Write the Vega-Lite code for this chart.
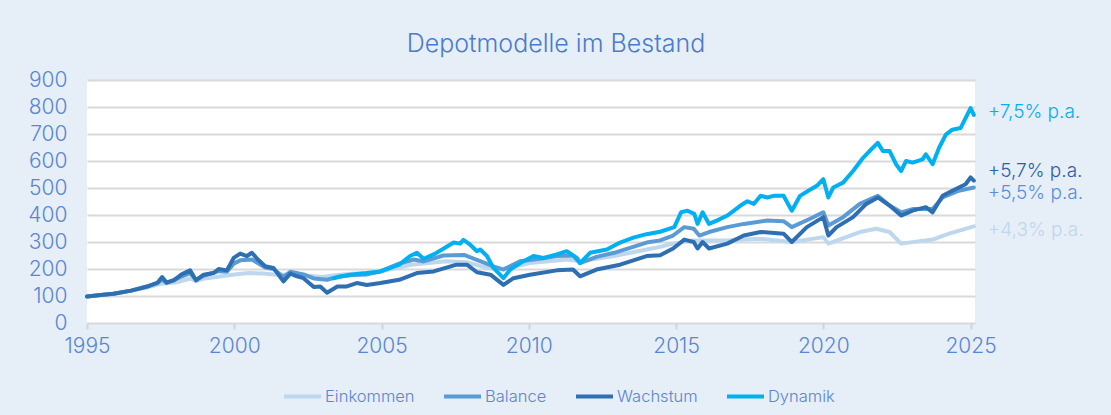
{
  "$schema": "https://vega.github.io/schema/vega-lite/v6.json",
  "width": 888,
  "height": 243,
  "autosize": {"type": "none"},
  "padding": {"left": 87, "top": 80, "right": 136, "bottom": 92},
  "background": "#e6eef8",
  "title": {"text": "Depotmodelle im Bestand", "fontSize": 25, "fontWeight": 300, "color": "#4a7bcc", "font": "Inter", "offset": 12, "dx": 25},
  "config": {
    "font": "Inter",
    "view": {"fill": "white", "stroke": null}
  },
  "datasets": {
    "lines": [
      {"s":"Einkommen","t":1995.0,"v":98},{"s":"Einkommen","t":1996.0,"v":110},{"s":"Einkommen","t":1997.0,"v":130},{"s":"Einkommen","t":1997.5,"v":145},{"s":"Einkommen","t":1998.0,"v":150},{"s":"Einkommen","t":1998.5,"v":165},{"s":"Einkommen","t":1998.7,"v":155},{"s":"Einkommen","t":1999.0,"v":165},{"s":"Einkommen","t":1999.5,"v":172},{"s":"Einkommen","t":2000.0,"v":180},{"s":"Einkommen","t":2000.5,"v":185},{"s":"Einkommen","t":2001.0,"v":183},{"s":"Einkommen","t":2001.5,"v":178},{"s":"Einkommen","t":2002.0,"v":182},{"s":"Einkommen","t":2002.5,"v":175},{"s":"Einkommen","t":2003.0,"v":170},{"s":"Einkommen","t":2003.5,"v":178},{"s":"Einkommen","t":2004.0,"v":182},{"s":"Einkommen","t":2004.5,"v":185},{"s":"Einkommen","t":2004.96,"v":191},{"s":"Einkommen","t":2006.0,"v":216},{"s":"Einkommen","t":2007.2,"v":229},{"s":"Einkommen","t":2007.9,"v":225},{"s":"Einkommen","t":2008.6,"v":204},{"s":"Einkommen","t":2009.14,"v":200},{"s":"Einkommen","t":2010.04,"v":222},{"s":"Einkommen","t":2011.3,"v":235},{"s":"Einkommen","t":2011.74,"v":229},{"s":"Einkommen","t":2012.9,"v":248},{"s":"Einkommen","t":2014.0,"v":272},{"s":"Einkommen","t":2014.46,"v":282},{"s":"Einkommen","t":2014.9,"v":294},{"s":"Einkommen","t":2015.6,"v":306},{"s":"Einkommen","t":2016.7,"v":306},{"s":"Einkommen","t":2017.8,"v":312},{"s":"Einkommen","t":2018.93,"v":300},{"s":"Einkommen","t":2020.0,"v":318},{"s":"Einkommen","t":2020.17,"v":294},{"s":"Einkommen","t":2021.24,"v":337},{"s":"Einkommen","t":2021.8,"v":349},{"s":"Einkommen","t":2022.25,"v":337},{"s":"Einkommen","t":2022.64,"v":294},{"s":"Einkommen","t":2023.48,"v":306},{"s":"Einkommen","t":2023.71,"v":309},{"s":"Einkommen","t":2024.27,"v":331},{"s":"Einkommen","t":2025.11,"v":358},

      {"s":"Balance","t":1995.0,"v":98},{"s":"Balance","t":1995.9,"v":108},{"s":"Balance","t":1996.5,"v":120},{"s":"Balance","t":1997.04,"v":135},{"s":"Balance","t":1997.4,"v":148},{"s":"Balance","t":1997.55,"v":162},{"s":"Balance","t":1997.7,"v":148},{"s":"Balance","t":1998.2,"v":172},{"s":"Balance","t":1998.5,"v":185},{"s":"Balance","t":1998.7,"v":160},{"s":"Balance","t":1998.96,"v":175},{"s":"Balance","t":1999.47,"v":192},{"s":"Balance","t":1999.75,"v":190},{"s":"Balance","t":1999.98,"v":220},{"s":"Balance","t":2000.2,"v":232},{"s":"Balance","t":2000.6,"v":235},{"s":"Balance","t":2000.8,"v":222},{"s":"Balance","t":2001.05,"v":205},{"s":"Balance","t":2001.33,"v":200},{"s":"Balance","t":2001.67,"v":170},{"s":"Balance","t":2001.9,"v":190},{"s":"Balance","t":2002.35,"v":180},{"s":"Balance","t":2002.7,"v":165},{"s":"Balance","t":2003.15,"v":160},{"s":"Balance","t":2003.5,"v":170},{"s":"Balance","t":2004.0,"v":178},{"s":"Balance","t":2004.5,"v":180},{"s":"Balance","t":2004.96,"v":191},{"s":"Balance","t":2005.6,"v":220},{"s":"Balance","t":2006.1,"v":235},{"s":"Balance","t":2006.43,"v":228},{"s":"Balance","t":2007.1,"v":250},{"s":"Balance","t":2007.8,"v":252},{"s":"Balance","t":2008.35,"v":229},{"s":"Balance","t":2008.8,"v":210},{"s":"Balance","t":2009.14,"v":198},{"s":"Balance","t":2009.7,"v":229},{"s":"Balance","t":2010.5,"v":240},{"s":"Balance","t":2010.95,"v":248},{"s":"Balance","t":2011.5,"v":250},{"s":"Balance","t":2011.74,"v":222},{"s":"Balance","t":2012.3,"v":245},{"s":"Balance","t":2012.9,"v":260},{"s":"Balance","t":2014.0,"v":298},{"s":"Balance","t":2014.46,"v":306},{"s":"Balance","t":2014.9,"v":324},{"s":"Balance","t":2015.28,"v":355},{"s":"Balance","t":2015.6,"v":349},{"s":"Balance","t":2015.79,"v":324},{"s":"Balance","t":2016.12,"v":337},{"s":"Balance","t":2016.74,"v":355},{"s":"Balance","t":2017.3,"v":367},{"s":"Balance","t":2018.1,"v":380},{"s":"Balance","t":2018.65,"v":377},{"s":"Balance","t":2018.93,"v":355},{"s":"Balance","t":2019.55,"v":386},{"s":"Balance","t":2020.0,"v":410},{"s":"Balance","t":2020.17,"v":361},{"s":"Balance","t":2020.67,"v":392},{"s":"Balance","t":2021.24,"v":441},{"s":"Balance","t":2021.85,"v":471},{"s":"Balance","t":2022.25,"v":435},{"s":"Balance","t":2022.64,"v":410},{"s":"Balance","t":2023.03,"v":422},{"s":"Balance","t":2023.71,"v":422},{"s":"Balance","t":2024.05,"v":465},{"s":"Balance","t":2024.6,"v":490},{"s":"Balance","t":2025.11,"v":502},

      {"s":"Wachstum","t":1995.0,"v":98},{"s":"Wachstum","t":1995.45,"v":104},{"s":"Wachstum","t":1995.9,"v":108},{"s":"Wachstum","t":1996.5,"v":120},{"s":"Wachstum","t":1997.04,"v":135},{"s":"Wachstum","t":1997.4,"v":150},{"s":"Wachstum","t":1997.55,"v":170},{"s":"Wachstum","t":1997.7,"v":150},{"s":"Wachstum","t":1997.95,"v":158},{"s":"Wachstum","t":1998.2,"v":179},{"s":"Wachstum","t":1998.5,"v":195},{"s":"Wachstum","t":1998.7,"v":158},{"s":"Wachstum","t":1998.96,"v":179},{"s":"Wachstum","t":1999.3,"v":185},{"s":"Wachstum","t":1999.47,"v":200},{"s":"Wachstum","t":1999.75,"v":195},{"s":"Wachstum","t":1999.98,"v":241},{"s":"Wachstum","t":2000.2,"v":257},{"s":"Wachstum","t":2000.43,"v":248},{"s":"Wachstum","t":2000.6,"v":260},{"s":"Wachstum","t":2000.8,"v":235},{"s":"Wachstum","t":2001.05,"v":210},{"s":"Wachstum","t":2001.33,"v":204},{"s":"Wachstum","t":2001.67,"v":154},{"s":"Wachstum","t":2001.9,"v":183},{"s":"Wachstum","t":2002.13,"v":173},{"s":"Wachstum","t":2002.35,"v":166},{"s":"Wachstum","t":2002.7,"v":133},{"s":"Wachstum","t":2002.92,"v":135},{"s":"Wachstum","t":2003.15,"v":112},{"s":"Wachstum","t":2003.5,"v":135},{"s":"Wachstum","t":2003.8,"v":135},{"s":"Wachstum","t":2004.16,"v":148},{"s":"Wachstum","t":2004.5,"v":141},{"s":"Wachstum","t":2004.96,"v":148},{"s":"Wachstum","t":2005.6,"v":160},{"s":"Wachstum","t":2006.2,"v":185},{"s":"Wachstum","t":2006.77,"v":191},{"s":"Wachstum","t":2007.55,"v":216},{"s":"Wachstum","t":2007.9,"v":216},{"s":"Wachstum","t":2008.24,"v":188},{"s":"Wachstum","t":2008.7,"v":179},{"s":"Wachstum","t":2009.14,"v":141},{"s":"Wachstum","t":2009.48,"v":166},{"s":"Wachstum","t":2010.04,"v":179},{"s":"Wachstum","t":2010.95,"v":195},{"s":"Wachstum","t":2011.5,"v":198},{"s":"Wachstum","t":2011.74,"v":173},{"s":"Wachstum","t":2012.3,"v":198},{"s":"Wachstum","t":2013.1,"v":216},{"s":"Wachstum","t":2014.0,"v":248},{"s":"Wachstum","t":2014.46,"v":251},{"s":"Wachstum","t":2014.9,"v":276},{"s":"Wachstum","t":2015.28,"v":309},{"s":"Wachstum","t":2015.6,"v":300},{"s":"Wachstum","t":2015.73,"v":276},{"s":"Wachstum","t":2015.9,"v":300},{"s":"Wachstum","t":2016.12,"v":276},{"s":"Wachstum","t":2016.74,"v":294},{"s":"Wachstum","t":2017.3,"v":324},{"s":"Wachstum","t":2017.87,"v":337},{"s":"Wachstum","t":2018.65,"v":331},{"s":"Wachstum","t":2018.93,"v":300},{"s":"Wachstum","t":2019.44,"v":355},{"s":"Wachstum","t":2020.0,"v":392},{"s":"Wachstum","t":2020.17,"v":324},{"s":"Wachstum","t":2020.45,"v":355},{"s":"Wachstum","t":2021.01,"v":392},{"s":"Wachstum","t":2021.46,"v":441},{"s":"Wachstum","t":2021.85,"v":465},{"s":"Wachstum","t":2022.25,"v":435},{"s":"Wachstum","t":2022.64,"v":398},{"s":"Wachstum","t":2023.03,"v":416},{"s":"Wachstum","t":2023.48,"v":429},{"s":"Wachstum","t":2023.71,"v":410},{"s":"Wachstum","t":2024.05,"v":471},{"s":"Wachstum","t":2024.38,"v":490},{"s":"Wachstum","t":2024.83,"v":514},{"s":"Wachstum","t":2025.0,"v":539},{"s":"Wachstum","t":2025.11,"v":527},

      {"s":"Dynamik","t":2003.37,"v":166},{"s":"Dynamik","t":2003.6,"v":172},{"s":"Dynamik","t":2004.0,"v":180},{"s":"Dynamik","t":2004.5,"v":185},{"s":"Dynamik","t":2004.96,"v":191},{"s":"Dynamik","t":2005.3,"v":204},{"s":"Dynamik","t":2005.6,"v":216},{"s":"Dynamik","t":2005.97,"v":248},{"s":"Dynamik","t":2006.2,"v":260},{"s":"Dynamik","t":2006.43,"v":238},{"s":"Dynamik","t":2006.77,"v":254},{"s":"Dynamik","t":2007.1,"v":275},{"s":"Dynamik","t":2007.45,"v":298},{"s":"Dynamik","t":2007.67,"v":294},{"s":"Dynamik","t":2007.78,"v":308},{"s":"Dynamik","t":2008.0,"v":291},{"s":"Dynamik","t":2008.24,"v":266},{"s":"Dynamik","t":2008.35,"v":272},{"s":"Dynamik","t":2008.58,"v":248},{"s":"Dynamik","t":2008.8,"v":204},{"s":"Dynamik","t":2009.14,"v":166},{"s":"Dynamik","t":2009.37,"v":198},{"s":"Dynamik","t":2009.71,"v":222},{"s":"Dynamik","t":2010.16,"v":248},{"s":"Dynamik","t":2010.5,"v":241},{"s":"Dynamik","t":2010.95,"v":254},{"s":"Dynamik","t":2011.29,"v":266},{"s":"Dynamik","t":2011.63,"v":241},{"s":"Dynamik","t":2011.74,"v":222},{"s":"Dynamik","t":2012.08,"v":260},{"s":"Dynamik","t":2012.65,"v":272},{"s":"Dynamik","t":2013.1,"v":298},{"s":"Dynamik","t":2013.55,"v":316},{"s":"Dynamik","t":2014.0,"v":329},{"s":"Dynamik","t":2014.46,"v":338},{"s":"Dynamik","t":2014.94,"v":355},{"s":"Dynamik","t":2015.17,"v":410},{"s":"Dynamik","t":2015.39,"v":416},{"s":"Dynamik","t":2015.62,"v":404},{"s":"Dynamik","t":2015.73,"v":367},{"s":"Dynamik","t":2015.9,"v":410},{"s":"Dynamik","t":2016.12,"v":367},{"s":"Dynamik","t":2016.4,"v":380},{"s":"Dynamik","t":2016.74,"v":398},{"s":"Dynamik","t":2017.19,"v":435},{"s":"Dynamik","t":2017.42,"v":451},{"s":"Dynamik","t":2017.64,"v":441},{"s":"Dynamik","t":2017.87,"v":471},{"s":"Dynamik","t":2018.1,"v":465},{"s":"Dynamik","t":2018.31,"v":471},{"s":"Dynamik","t":2018.65,"v":471},{"s":"Dynamik","t":2018.93,"v":416},{"s":"Dynamik","t":2019.21,"v":471},{"s":"Dynamik","t":2019.49,"v":490},{"s":"Dynamik","t":2019.78,"v":508},{"s":"Dynamik","t":2020.0,"v":533},{"s":"Dynamik","t":2020.17,"v":465},{"s":"Dynamik","t":2020.34,"v":502},{"s":"Dynamik","t":2020.67,"v":520},{"s":"Dynamik","t":2021.01,"v":563},{"s":"Dynamik","t":2021.35,"v":612},{"s":"Dynamik","t":2021.57,"v":637},{"s":"Dynamik","t":2021.85,"v":667},{"s":"Dynamik","t":2022.02,"v":637},{"s":"Dynamik","t":2022.25,"v":637},{"s":"Dynamik","t":2022.47,"v":588},{"s":"Dynamik","t":2022.64,"v":563},{"s":"Dynamik","t":2022.81,"v":600},{"s":"Dynamik","t":2023.03,"v":594},{"s":"Dynamik","t":2023.37,"v":606},{"s":"Dynamik","t":2023.48,"v":625},{"s":"Dynamik","t":2023.71,"v":588},{"s":"Dynamik","t":2023.93,"v":649},{"s":"Dynamik","t":2024.16,"v":698},{"s":"Dynamik","t":2024.38,"v":716},{"s":"Dynamik","t":2024.66,"v":722},{"s":"Dynamik","t":2024.83,"v":759},{"s":"Dynamik","t":2025.0,"v":796},{"s":"Dynamik","t":2025.11,"v":771}
    ],
    "labels": [
      {"s":"Dynamik","t":2025.11,"v":783,"label":"+7,5% p.a."},
      {"s":"Wachstum","t":2025.11,"v":562,"label":"+5,7% p.a."},
      {"s":"Balance","t":2025.11,"v":480,"label":"+5,5% p.a."},
      {"s":"Einkommen","t":2025.11,"v":346,"label":"+4,3% p.a."}
    ]
  },
  "encoding": {
    "x": {"field": "t", "type": "quantitative", "scale": {"domain": [1995, 2025.15], "nice": false, "zero": false},
      "axis": {"title": null, "values": [1995, 2000, 2005, 2010, 2015, 2020, 2025], "format": "d", "grid": false, "domain": false, "ticks": true, "tickSize": 6, "tickColor": "#d0d4d8", "tickWidth": 2, "labelFontSize": 21, "labelFontWeight": 300, "labelColor": "#5a86d0", "labelPadding": 6, "labelFont": "Inter", "labelFlush": false, "labelOverlap": false}},
    "y": {"field": "v", "type": "quantitative", "scale": {"domain": [0, 900], "nice": false},
      "axis": {"title": null, "values": [0,100,200,300,400,500,600,700,800,900], "grid": true, "gridColor": "#d9d9d9", "gridWidth": 2, "domain": false, "ticks": false, "labelFontSize": 21, "labelFontWeight": 300, "labelColor": "#5a86d0", "labelPadding": 20, "labelFont": "Inter", "labelOverlap": false, "labelFlush": false}}
  },
  "layer": [
    {
      "data": {"name": "lines"},
      "mark": {"type": "line", "strokeWidth": 4, "strokeJoin": "round", "strokeCap": "round"},
      "encoding": {
        "color": {"field": "s", "type": "nominal", "sort": ["Einkommen","Balance","Wachstum","Dynamik"],
          "scale": {"domain": ["Einkommen","Balance","Wachstum","Dynamik"], "range": ["#bdd7ee","#5b9bd5","#2e6fb2","#00b0f0"]},
          "legend": {"title": null, "orient": "none", "legendX": 195, "legendY": 296, "direction": "horizontal", "symbolType": "stroke", "symbolSize": 1369, "symbolStrokeWidth": 4, "labelFontSize": 16.5, "labelFontWeight": 300, "labelColor": "#5a86d0", "columnPadding": 21, "labelOffset": 2, "labelFont": "Inter"}},
        "order": {"field": "t", "type": "quantitative"}
      }
    },
    {
      "data": {"name": "labels"},
      "mark": {"type": "text", "align": "left", "baseline": "middle", "dx": 14, "fontSize": 19, "fontWeight": 300, "font": "Inter"},
      "encoding": {
        "text": {"field": "label"},
        "fill": {"field": "s", "type": "nominal", "legend": null,
          "scale": {"domain": ["Einkommen","Balance","Wachstum","Dynamik"], "range": ["#bdd7ee","#5b8fd8","#2f5fa8","#00b0f0"]}}
      }
    }
  ]
}
